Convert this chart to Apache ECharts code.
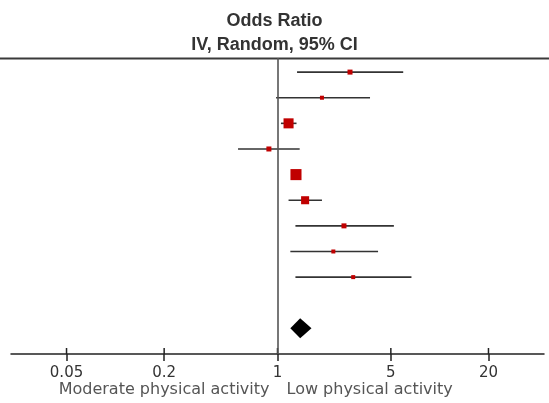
<!DOCTYPE html>
<html>
<head>
<meta charset="utf-8">
<script src="https://cdn.jsdelivr.net/npm/echarts@6/dist/echarts.min.js"></script>
<style>
  html, body { margin: 0; padding: 0; background: #fff; }
  #chart { width: 549px; height: 403px; }
</style>
</head>
<body>
<div id="chart"></div>
<script>
// study rows, top to bottom (odds ratio with 95% CI)
const oddsRatio = [2.80, 1.88, 1.17, 0.885, 1.30, 1.48, 2.57, 2.21, 2.93];
const ciLower   = [1.32, 0.98, 1.05, 0.571, 1.24, 1.17, 1.29, 1.20, 1.29];
const ciUpper   = [5.96, 3.72, 1.31, 1.37, 1.37, 1.88, 5.22, 4.17, 6.70];
const weights   = [6.1, 3.9, 24.5, 6.1, 29.7, 15.7, 6.1, 3.9, 3.9];

// pooled estimate
const pooled = [1.38, 1.20, 1.62];
const pooledRow = 10;

const tickValues = [0.05, 0.2, 1, 5, 20];
const leftLabel = 'Moderate physical activity';
const rightLabel = 'Low physical activity';

const lg = v => Math.log10(v);
const xMin = lg(1 / 44), xMax = lg(44);
const yMin = -0.55, yMax = 11;

const chart = echarts.init(document.getElementById('chart'));

const ciData = oddsRatio.map((v, i) => [lg(ciLower[i]), lg(ciUpper[i]), i]);
const pointData = oddsRatio.map((v, i) => [lg(v), i, weights[i]]);

chart.setOption({
  animation: false,
  title: {
    text: 'Odds Ratio\nIV, Random, 95% CI',
    left: 'center', top: 4,
    textStyle: { fontFamily: 'Liberation Sans', fontSize: 18, fontWeight: 'bold', color: '#333', lineHeight: 24 }
  },
  grid: { left: 11, right: 5, top: 58, bottom: 49 },
  xAxis: {
    type: 'value', min: xMin, max: xMax, position: 'bottom',
    splitLine: { show: false },
    axisLine: { show: true, onZero: false, lineStyle: { color: '#222', width: 1.5 } },
    axisTick: { show: true, length: 7, customValues: tickValues.map(lg), lineStyle: { color: '#222', width: 1.5 } },
    axisLabel: {
      customValues: tickValues.map(lg), margin: 12,
      formatter: v => String(+Math.pow(10, v).toPrecision(3)),
      fontFamily: 'DejaVu Sans', fontSize: 15, color: '#333'
    }
  },
  yAxis: { type: 'value', inverse: true, min: yMin, max: yMax, show: false, splitLine: { show: false } },
  series: [
    {
      // upper half of the tick marks, which cross the axis line
      name: 'tickUp', type: 'custom', silent: true, clip: false,
      data: tickValues.map(v => [lg(v), yMax]),
      renderItem: (params, api) => {
        const p = api.coord([api.value(0), api.value(1)]);
        return { type: 'line', shape: { x1: p[0], y1: p[1] - 6, x2: p[0], y2: p[1] }, style: { stroke: '#222', lineWidth: 1.5 } };
      },
      z: 1
    },
    {
      name: 'ci', type: 'custom',
      data: ciData,
      renderItem: (params, api) => {
        const a = api.coord([api.value(0), api.value(2)]);
        const b = api.coord([api.value(1), api.value(2)]);
        return { type: 'line', shape: { x1: a[0], y1: a[1], x2: b[0], y2: b[1] }, style: { stroke: '#333', lineWidth: 1.6 } };
      },
      markLine: {
        silent: true, symbol: 'none', label: { show: false },
        lineStyle: { color: '#555', width: 1.6, type: 'solid' },
        data: [{ xAxis: 0 }]
      },
      z: 2
    },
    {
      name: 'study', type: 'scatter',
      data: pointData,
      symbol: 'rect',
      symbolSize: val => 2.03 * Math.sqrt(val[2]),
      itemStyle: { color: '#c00000', opacity: 1 },
      z: 3
    },
    {
      name: 'pooled', type: 'custom',
      data: [[lg(pooled[0]), lg(pooled[1]), lg(pooled[2]), pooledRow]],
      renderItem: (params, api) => {
        const c = api.coord([api.value(0), api.value(3)]);
        const l = api.coord([api.value(1), api.value(3)]);
        const r = api.coord([api.value(2), api.value(3)]);
        const h = 10;
        return {
          type: 'polygon',
          shape: { points: [[l[0], c[1]], [c[0], c[1] - h], [r[0], c[1]], [c[0], c[1] + h]] },
          style: { fill: '#000' }
        };
      },
      z: 3
    }
  ]
});

// direction labels under the axis, either side of OR = 1
const x1 = chart.convertToPixel({ xAxisIndex: 0 }, 0);
chart.setOption({
  graphic: [
    { type: 'line', shape: { x1: 0, y1: 58.5, x2: 549, y2: 58.5 }, style: { stroke: '#3a3a3a', lineWidth: 2 }, silent: true },
    { type: 'text', x: x1 - 8, y: 390, style: { text: leftLabel, align: 'right', verticalAlign: 'middle', font: '16px "DejaVu Sans"', fill: '#555' } },
    { type: 'text', x: x1 + 9, y: 390, style: { text: rightLabel, align: 'left', verticalAlign: 'middle', font: '16px "DejaVu Sans"', fill: '#555' } }
  ]
});
</script>
</body>
</html>
